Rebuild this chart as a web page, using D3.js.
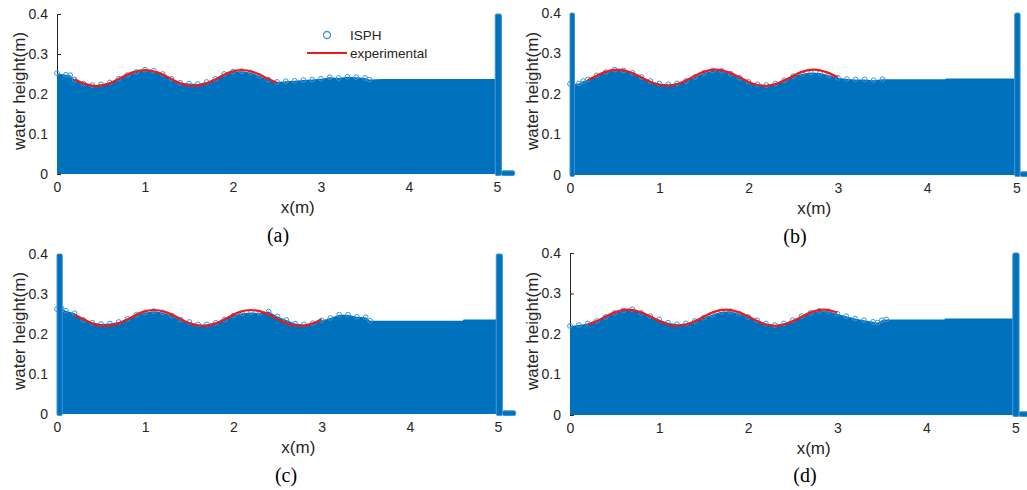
<!DOCTYPE html>
<html><head><meta charset="utf-8">
<script src="https://cdn.jsdelivr.net/npm/d3@7"></script>
<style>body{margin:0;background:#fff}svg{display:block}</style>
</head><body>
<svg id="c" width="1027" height="490"></svg>
<script>
// ---------- data ----------
const xTicks = [0, 1, 2, 3, 4, 5];
const yTicks = [0, 0.1, 0.2, 0.3, 0.4];
const panelLabels = ["(a)", "(b)", "(c)", "(d)"];
const legendLabels = ["ISPH", "experimental"];

// free surface of the ISPH particle cloud (x in m, height in m)
const surfX_a = [0,0.1,0.15,0.2,0.3,0.4,0.5,0.6,0.7,0.8,0.9,1.0,1.1,1.2,1.3,1.4,1.5,1.6,1.7,1.8,1.9,2.0,2.1,2.2,2.3,2.4,2.5,2.6,2.7,2.8,2.9,3.0,3.1,3.2,3.3,3.4,3.5,3.55,3.7,4.98];
const surfH_a = [0.252,0.248,0.247,0.236,0.226,0.222,0.224,0.229,0.238,0.247,0.255,0.261,0.258,0.250,0.238,0.228,0.226,0.225,0.230,0.238,0.250,0.256,0.257,0.254,0.245,0.236,0.230,0.232,0.233,0.235,0.236,0.238,0.242,0.240,0.243,0.242,0.240,0.236,0.2375,0.2375];
const surfX_b = [0,0.1,0.15,0.2,0.3,0.4,0.5,0.6,0.7,0.8,0.9,1.0,1.1,1.2,1.3,1.4,1.5,1.6,1.7,1.8,1.9,2.0,2.1,2.2,2.3,2.4,2.5,2.6,2.7,2.8,2.9,3.0,3.1,3.2,3.3,3.4,3.5,4.2,4.21,4.98];
const surfH_b = [0.225,0.226,0.232,0.236,0.246,0.254,0.260,0.258,0.252,0.242,0.232,0.226,0.224,0.226,0.232,0.242,0.252,0.258,0.257,0.250,0.240,0.230,0.224,0.222,0.226,0.234,0.244,0.250,0.253,0.252,0.246,0.240,0.237,0.236,0.236,0.234,0.2365,0.2365,0.238,0.238];
const surfX_c = [0,0.05,0.1,0.2,0.3,0.4,0.5,0.6,0.7,0.8,0.9,1.0,1.1,1.2,1.3,1.4,1.5,1.6,1.7,1.8,1.9,2.0,2.1,2.2,2.3,2.4,2.5,2.6,2.7,2.8,2.9,3.0,3.1,3.2,3.3,3.4,3.5,3.55,4.6,4.61,4.98];
const surfH_c = [0.262,0.264,0.258,0.252,0.235,0.228,0.225,0.226,0.230,0.238,0.248,0.254,0.257,0.254,0.246,0.236,0.230,0.224,0.224,0.228,0.236,0.246,0.252,0.254,0.252,0.256,0.244,0.235,0.226,0.224,0.227,0.234,0.240,0.248,0.248,0.243,0.242,0.233,0.233,0.236,0.236];
const surfX_d = [0,0.1,0.2,0.3,0.4,0.5,0.6,0.7,0.8,0.9,1.0,1.1,1.2,1.3,1.4,1.5,1.6,1.7,1.8,1.9,2.0,2.1,2.2,2.3,2.4,2.5,2.6,2.7,2.8,2.9,3.0,3.1,3.2,3.3,3.4,3.45,3.5,3.55,4.2,4.21,4.97];
const surfH_d = [0.220,0.222,0.226,0.232,0.242,0.252,0.258,0.261,0.252,0.244,0.236,0.228,0.224,0.226,0.232,0.240,0.248,0.255,0.256,0.250,0.242,0.234,0.226,0.222,0.226,0.234,0.244,0.252,0.257,0.256,0.250,0.244,0.238,0.234,0.230,0.228,0.234,0.236,0.236,0.238,0.238];

// experimental free surface
const expX_a = [0.2,0.31,0.45,0.59,0.72,0.86,1.0,1.14,1.28,1.41,1.55,1.69,1.83,1.96,2.1,2.24,2.38,2.5];
const expH_a = [0.237,0.226,0.220,0.226,0.240,0.254,0.260,0.254,0.240,0.226,0.220,0.226,0.240,0.254,0.260,0.254,0.240,0.228];
const expX_b = [0.2,0.28,0.39,0.53,0.67,0.81,0.94,1.08,1.22,1.36,1.49,1.63,1.77,1.91,2.04,2.18,2.32,2.46,2.59,2.73,2.87,3.0];
const expH_b = [0.234,0.243,0.254,0.260,0.254,0.240,0.226,0.220,0.226,0.240,0.254,0.260,0.254,0.240,0.226,0.220,0.226,0.240,0.254,0.260,0.254,0.241];
const expX_c = [0.2,0.3,0.41,0.55,0.69,0.83,0.96,1.1,1.24,1.38,1.51,1.65,1.79,1.93,2.06,2.2,2.34,2.48,2.61,2.75,2.89,3.0];
const expH_c = [0.248,0.237,0.226,0.220,0.226,0.240,0.254,0.260,0.254,0.240,0.226,0.220,0.226,0.240,0.254,0.260,0.254,0.240,0.226,0.220,0.226,0.237];
const expX_d = [0.2,0.3,0.4,0.51,0.65,0.79,0.93,1.06,1.2,1.34,1.48,1.61,1.75,1.89,2.03,2.16,2.3,2.44,2.58,2.71,2.85,3.0];
const expH_d = [0.223,0.232,0.243,0.254,0.260,0.254,0.240,0.226,0.220,0.226,0.240,0.254,0.260,0.254,0.240,0.226,0.220,0.226,0.240,0.254,0.260,0.253];

// wall / floor particles (x extents in m)
const rightWallX0 = [4.98, 4.98, 4.98, 4.97];
const rightWallX1 = [5.05, 5.04, 5.05, 5.04];
const hasLeftWall = [false, true, true, false];
const leftWallX1 = [0, 0.05, 0.06, 0];
const wallTop = 0.4;
const floorEnd = 5.2;
const floorTop = 0.008;
const waveZoneEnd = 3.56;

// ---------- layout ----------
const panels = [
  {x0: 57,  yZero: 174, yTop: 14,  ppu: 88.0, sx: surfX_a, sh: surfH_a, ex: expX_a, eh: expH_a, lab: [278, 242], legend: true},
  {x0: 570, yZero: 175, yTop: 13,  ppu: 89.3, sx: surfX_b, sh: surfH_b, ex: expX_b, eh: expH_b, lab: [795, 243]},
  {x0: 57,  yZero: 414, yTop: 254, ppu: 88.2, sx: surfX_c, sh: surfH_c, ex: expX_c, eh: expH_c, lab: [286, 482]},
  {x0: 570, yZero: 415, yTop: 253, ppu: 89.1, sx: surfX_d, sh: surfH_d, ex: expX_d, eh: expH_d, lab: [805, 482]}
];
const BLUE = "#0072BD", EDGE = "#3f93d3", RED = "#f01818", AX = "#262626";
const FONT = "'Liberation Sans', Arial, Helvetica, sans-serif";

const svg = d3.select("#c");

panels.forEach((p, i) => {
  const x = d3.scaleLinear().domain([0, 5.2]).range([p.x0, p.x0 + 5.2 * p.ppu]);
  const y = d3.scaleLinear().domain([0, 0.4]).range([p.yZero, p.yTop]);
  const g = svg.append("g");

  // y axis (MATLAB style: ticks inward)
  const yAx = g.append("g").attr("transform", `translate(${p.x0},0)`)
    .call(d3.axisLeft(y).tickValues(yTicks).tickSizeInner(-4).tickSizeOuter(0).tickPadding(9)
      .tickFormat(d => d === 0 ? "0" : d3.format(".1f")(d)));
  yAx.select(".domain").attr("stroke", AX);
  yAx.selectAll(".tick line").attr("stroke", AX);
  yAx.selectAll("text").attr("fill", AX).style("font-family", FONT).style("font-size", "14px");

  const xAx = g.append("g").attr("transform", `translate(0,${p.yZero})`)
    .call(d3.axisBottom(x).tickValues(xTicks).tickSizeInner(-4).tickSizeOuter(0).tickPadding(8).tickFormat(d3.format("d")));
  xAx.select(".domain").remove();
  xAx.selectAll(".tick line").attr("stroke", AX);
  xAx.selectAll("text").attr("fill", AX).style("font-family", FONT).style("font-size", "14px");

  // water body (particles)
  const pts = p.sx.map((v, k) => [v, p.sh[k]]);
  const area = d3.area().x(d => x(d[0])).y0(y(0)).y1(d => y(d[1]));
  g.append("path").datum(pts).attr("d", area).attr("fill", BLUE);

  // surface particles (circle markers)
  g.append("g").selectAll("circle")
    .data(pts.filter(d => d[0] <= waveZoneEnd))
    .join("circle")
    .attr("cx", d => x(d[0])).attr("cy", d => y(d[1])).attr("r", 2.4)
    .attr("fill", "none").attr("stroke", EDGE).attr("stroke-width", 1);

  // walls and floor
  const wallRects = [
    {x0: rightWallX0[i], x1: rightWallX1[i], h: wallTop},
    {x0: rightWallX1[i], x1: floorEnd, h: floorTop}
  ];
  if (hasLeftWall[i]) wallRects.push({x0: 0, x1: leftWallX1[i], h: wallTop});
  g.append("g").selectAll("rect").data(wallRects).join("rect")
    .attr("x", d => x(d.x0)).attr("width", d => x(d.x1) - x(d.x0))
    .attr("y", d => y(d.h)).attr("height", d => y(0) - y(d.h) + 1.5)
    .attr("fill", BLUE).attr("stroke", EDGE).attr("stroke-width", 1)
    .attr("rx", 1.5);

  // experimental line
  const line = d3.line().x(d => x(d[0])).y(d => y(d[1])).curve(d3.curveCatmullRom.alpha(0.5));
  g.append("path").datum(p.ex.map((v, k) => [v, p.eh[k]]))
    .attr("d", line).attr("fill", "none").attr("stroke", RED).attr("stroke-width", 2.2);

  // axis labels
  g.append("text").attr("x", x(2.6) + 12).attr("y", p.yZero + 39).attr("text-anchor", "middle")
    .style("font-family", FONT).style("font-size", "17px").attr("fill", AX).text("x(m)");
  g.append("text").attr("transform", `translate(${p.x0 - 32},${(p.yZero + p.yTop) / 2 - 3}) rotate(-90)`)
    .attr("text-anchor", "middle").style("font-family", FONT).style("font-size", "17px").attr("fill", AX)
    .text("water height(m)");

  // panel label
  g.append("text").attr("x", p.lab[0]).attr("y", p.lab[1]).attr("text-anchor", "middle")
    .style("font-family", "'Liberation Serif', 'Times New Roman', serif").style("font-size", "20px")
    .attr("fill", "#000").text(panelLabels[i]);

  // legend
  if (p.legend) {
    const lg = g.append("g");
    lg.append("circle").attr("cx", 327).attr("cy", 35).attr("r", 3.5)
      .attr("fill", "none").attr("stroke", EDGE).attr("stroke-width", 1.3);
    lg.append("line").attr("x1", 307).attr("x2", 347).attr("y1", 53).attr("y2", 53)
      .attr("stroke", RED).attr("stroke-width", 2);
    lg.selectAll("text").data(legendLabels).join("text")
      .attr("x", 350).attr("y", (d, k) => 40 + k * 18)
      .style("font-family", FONT).style("font-size", "13.5px").attr("fill", AX).text(d => d);
  }
});
</script>
</body></html>
